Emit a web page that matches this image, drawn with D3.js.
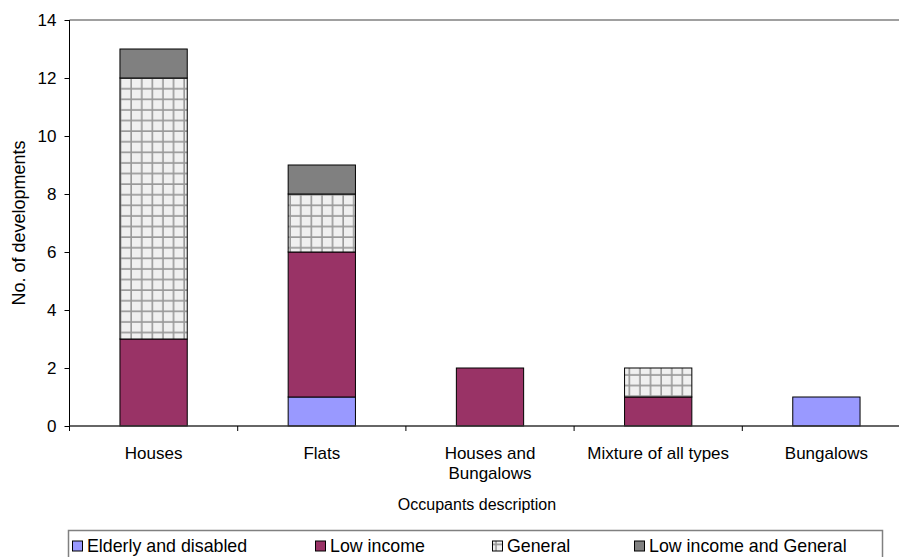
<!DOCTYPE html>
<html><head><meta charset="utf-8">
<script src="https://cdn.jsdelivr.net/npm/d3@7"></script>
<style>body{margin:0;background:#fff}svg{display:block;font-family:"Liberation Sans",Arial,sans-serif}</style>
</head><body><svg id="c" width="899" height="557"></svg>
<script>
const categories = ["Houses", "Flats", "Houses and Bungalows", "Mixture of all types", "Bungalows"];
const categoryLines = [["Houses"], ["Flats"], ["Houses and", "Bungalows"], ["Mixture of all types"], ["Bungalows"]];
const seriesNames = ["Elderly and disabled", "Low income", "General", "Low income and General"];
const elderly = [0, 1, 0, 0, 1];
const lowIncome = [3, 5, 2, 1, 0];
const general = [9, 2, 0, 1, 0];
const lowIncomeGeneral = [1, 1, 0, 0, 0];
const yTicks = [0, 2, 4, 6, 8, 10, 12, 14];

const svg = d3.select("#c");
const defs = svg.append("defs");
const pat = defs.append("pattern").attr("id", "grid").attr("patternUnits", "userSpaceOnUse")
  .attr("width", 10.6).attr("height", 10.6);
pat.append("rect").attr("width", 10.6).attr("height", 10.6).attr("fill", "#f0f0f0");
pat.append("path").attr("d", "M4,0V10.6M0,4H10.6").attr("stroke", "#999").attr("stroke-width", 1.6);

const colors = ["#9999FF", "#993366", "url(#grid)", "#808080"];

const x = d3.scaleBand().domain(categories).range([69.5, 910.5]).paddingInner(0.6).paddingOuter(0.3);
const y = d3.scaleLinear().domain([0, 14]).range([426, 20]);

const rows = categories.map((c, i) => ({cat: c, s0: elderly[i], s1: lowIncome[i], s2: general[i], s3: lowIncomeGeneral[i]}));
const stack = d3.stack().keys(["s0", "s1", "s2", "s3"])(rows);

svg.append("line").attr("x1", 69.5).attr("x2", 899).attr("y1", y(14)).attr("y2", y(14))
  .attr("stroke", "#808080").attr("stroke-width", 1.5);

stack.forEach((layer, k) => {
  svg.append("g").selectAll("rect").data(layer.filter(d => d[1] - d[0] > 0)).join("rect")
    .attr("x", d => x(d.data.cat)).attr("width", x.bandwidth())
    .attr("y", d => y(d[1])).attr("height", d => y(d[0]) - y(d[1]))
    .attr("fill", colors[k]).attr("stroke", "#000").attr("stroke-width", 1);
});

const ya = svg.append("g").attr("transform", "translate(69.5,0)")
  .call(d3.axisLeft(y).tickValues(yTicks).tickSize(5).tickPadding(8));
ya.select(".domain").attr("stroke", "#000").attr("d", `M0,${y(14)}V${y(0)}`);
ya.selectAll(".tick line").attr("stroke", "#000");
ya.selectAll("text").attr("font-size", 17).attr("fill", "#000").attr("font-family", "Liberation Sans, Arial, sans-serif");

const xa = svg.append("g").attr("transform", `translate(0,${y(0)})`);
xa.append("line").attr("x1", 69.5).attr("x2", 899).attr("stroke", "#333").attr("stroke-width", 1.5);
const step = x.step();
const bounds = categories.map((c) => x(c) - x.paddingInner() * step / 2).concat([x(categories[4]) + x.bandwidth() + x.paddingInner() * step / 2]);
xa.selectAll("line.t").data(bounds).join("line").attr("class", "t")
  .attr("x1", d => d).attr("x2", d => d).attr("y1", 0).attr("y2", 5).attr("stroke", "#000");
categories.forEach((c, i) => {
  const t = xa.append("text").attr("x", x(c) + x.bandwidth() / 2).attr("y", 33)
    .attr("text-anchor", "middle").attr("font-size", 17).attr("fill", "#000");
  categoryLines[i].forEach((l, j) => t.append("tspan").attr("x", x(c) + x.bandwidth() / 2).attr("dy", j ? 20 : 0).text(l));
});

svg.append("text").attr("x", 477).attr("y", 510).attr("text-anchor", "middle").attr("font-size", 16).text("Occupants description");
svg.append("text").attr("transform", "translate(25,223) rotate(-90)").attr("text-anchor", "middle").attr("font-size", 18).text("No. of developments");

svg.append("rect").attr("x", 68.5).attr("y", 530.5).attr("width", 814).attr("height", 40)
  .attr("fill", "#fff").attr("stroke", "#808080").attr("stroke-width", 1.5);
const legX = [72, 315, 492, 634];
seriesNames.forEach((n, i) => {
  const g = svg.append("g").attr("transform", `translate(${legX[i]},540.5)`);
  g.append("rect").attr("x", 0.5).attr("y", 0.5).attr("width", 10).attr("height", 10)
    .attr("fill", colors[i]).attr("stroke", "#000").attr("stroke-width", 1);
  g.append("text").attr("x", 15).attr("y", 11.5).attr("font-size", 17.8).text(n);
});
</script></body></html>
